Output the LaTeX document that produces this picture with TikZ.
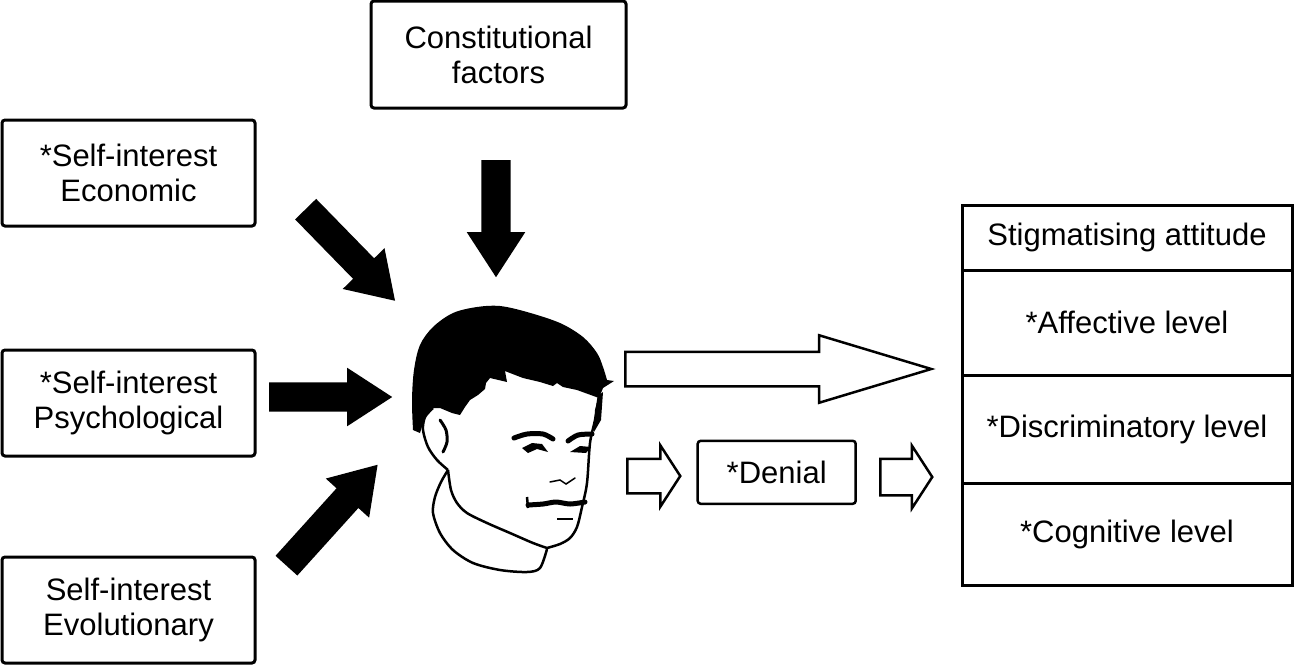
\documentclass[tikz,border=0pt]{standalone}
\usepackage{fontspec}
\setmainfont{Liberation Sans}
\usetikzlibrary{shapes.arrows,positioning}

\begin{document}
\begin{tikzpicture}[x=1pt,y=-1pt,
  factorbox/.style={draw,line width=3pt,rounded corners=3pt,minimum width=253pt,minimum height=106pt,align=center,font=\fontsize{31}{35}\selectfont},
  cell/.style={draw,line width=3pt,minimum width=330pt,outer sep=0pt,font=\fontsize{31}{35}\selectfont},
  fatarrow/.style={single arrow,fill=black,inner xsep=0pt,inner ysep=14.5pt,single arrow head extend=14.5pt,single arrow tip angle=66,anchor=tail},
  hollowarrow/.style={single arrow,draw,line width=2.5pt,inner xsep=0pt,inner ysep=16pt,anchor=tail}]
\useasboundingbox (0,0) rectangle (1297,665);

\node [factorbox,minimum width=255pt,minimum height=107pt] (constit) at (498.5,54.5) {Constitutional\\factors};
\node [factorbox] (econ) at (128.5,173) {*Self-interest\\Economic};
\node [factorbox] (psych) at (128.5,403) {*Self-interest\\Psychological};
\node [factorbox] (evol) at (128.5,610) {Self-interest\\Evolutionary};

\node [cell,minimum height=65pt] (stig) at (1127,237.5) {Stigmatising attitude};
\node [cell,minimum height=105pt,below=0pt of stig] (affect) {*Affective level};
\node [cell,minimum height=108pt,below=0pt of affect] (discr) {*Discriminatory level};
\node [cell,minimum height=102pt,below=0pt of discr] (cogn) {*Cognitive level};

\node [factorbox,line width=2.5pt,minimum width=158pt,minimum height=63pt] (denial) at (776.7,472.3) {*Denial};

\node [fatarrow,rotate=-90,minimum height=117pt] (constitarrow) at (496,160) {};
\node [fatarrow,rotate=-45.7,minimum height=128pt] (econarrow) at (305.5,209) {};
\node [fatarrow,minimum height=123pt] (psycharrow) at (269,397) {};
\node [fatarrow,rotate=47.9,minimum height=136pt] (evolarrow) at (286.3,565.8) {};

\node [hollowarrow,minimum height=306pt,single arrow head extend=16.5pt,single arrow tip angle=33.5] (attarrow) at (624,369) {};
\node [hollowarrow,minimum height=53pt,single arrow head extend=13.5pt,single arrow tip angle=114] (denialin) at (626,476) {};
\node [hollowarrow,minimum height=52pt,inner ysep=17pt,single arrow head extend=13pt,single arrow tip angle=114] (denialout) at (879,477) {};

% the head
\fill plot [smooth,tension=.55] coordinates {(413,430) (412,400) (414,370) (420,345) (433,327) (453,313) (477,307) (500,306) (527,312) (560,323) (583,337) (597,353) (603,367) (607,380)}
  -- (614,381) -- (603,388) -- (599,398) -- (577,390) -- (563,387) -- (557,383) -- (553,386) -- (540,382) -- (523,378) -- (510,373) -- (505,371) -- (507,382)
  -- (490,378) -- (486,383) -- (485,389) -- (478,395) -- (470,400) -- (465,407) -- (460,415) -- (452,413) -- (440,408) -- (433,408) -- (425,417) -- (420,433) -- cycle;
\fill (599,395) -- (603,392) -- (601,420) -- (594,432) -- (595,410) -- cycle;
\draw [line width=2.5pt,line join=round] plot [smooth,tension=.5] coordinates {(599,395) (595,420) (590,443) (587,483) (582,507) (577,527) (570,538) (560,544) (547,548)};
\draw [line width=2.5pt,line join=round] plot [smooth,tension=.5] coordinates {(547,548) (533,543) (510,533) (487,523) (467,513) (457,503) (451,490) (448,470)};
\draw [line width=2.5pt,line join=round] plot [smooth,tension=.5] coordinates {(433,408) (425,417) (423,430) (428,447) (437,460) (448,470)};
\draw [line width=3pt,line cap=round] plot [smooth,tension=.5] coordinates {(440,420) (446,430) (447,442) (443,452)};
\draw [line width=2.5pt,line join=round] plot [smooth,tension=.5] coordinates {(547,549) (540,568) (527,572) (500,570) (473,563) (453,550) (440,533) (433,513) (435,497) (441,482) (448,470)};
\draw [line width=5pt,line cap=round] plot [smooth,tension=.5] coordinates {(514,438) (527,434) (543,434) (553,439)};
\draw [line width=5pt,line cap=round] plot [smooth,tension=.5] coordinates {(568,441) (578,435) (592,434)};
\fill (522,448) -- (532,443) -- (542,444) -- (548,452) -- (537,449) -- (528,453) -- cycle;
\fill (570,452) -- (580,446) -- (591,447) -- (586,453) -- cycle;
\draw [line width=1.5pt,line cap=round] (550,482) -- (560,480) -- (566,484) -- (575,478);
\draw [line width=5pt,line cap=round] plot [smooth,tension=.5] coordinates {(528,505) (543,504) (556,502) (570,504) (585,502)};
\draw [line width=2.5pt] (527,497) -- (528,508);
\draw [line width=1.5pt] (557,519) -- (573,519);
\end{tikzpicture}
\end{document}
